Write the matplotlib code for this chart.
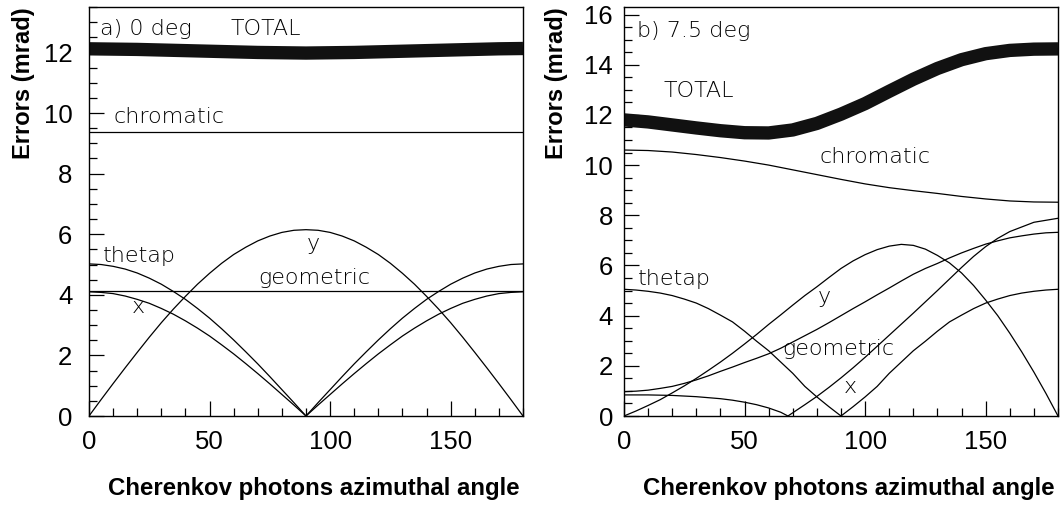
import numpy as np
import matplotlib
matplotlib.use('Agg')
import matplotlib.pyplot as plt
from matplotlib.ticker import MultipleLocator

# ---- panel a) 0 deg, values every 5 deg ----
angle5 = np.arange(0, 181, 5)
angle10 = np.arange(0, 181, 10)

thetap_a = [5.02, 5.00, 4.94, 4.85, 4.72, 4.55, 4.35, 4.11, 3.85, 3.55, 3.23, 2.88, 2.51,
            2.12, 1.72, 1.30, 0.87, 0.44, 0.00, 0.44, 0.87, 1.30, 1.72, 2.12, 2.51, 2.88,
            3.23, 3.55, 3.85, 4.11, 4.35, 4.55, 4.72, 4.85, 4.94, 5.00, 5.02]
x_a = [4.10, 4.08, 4.04, 3.96, 3.85, 3.72, 3.55, 3.36, 3.14, 2.90, 2.64, 2.35, 2.05,
       1.73, 1.40, 1.06, 0.71, 0.36, 0.00, 0.36, 0.71, 1.06, 1.40, 1.73, 2.05, 2.35,
       2.64, 2.90, 3.14, 3.36, 3.55, 3.72, 3.85, 3.96, 4.04, 4.08, 4.10]
y_a = [0.00, 0.54, 1.07, 1.59, 2.10, 2.60, 3.08, 3.53, 3.95, 4.35, 4.71, 5.04, 5.33,
       5.57, 5.78, 5.94, 6.06, 6.13, 6.15, 6.13, 6.06, 5.94, 5.78, 5.57, 5.33, 5.04,
       4.71, 4.35, 3.95, 3.53, 3.08, 2.60, 2.10, 1.59, 1.07, 0.54, 0.00]
geometric_a = [4.14] * 19
chromatic_a = [9.38] * 19
total_a = [12.12, 12.11, 12.10, 12.08, 12.06, 12.04, 12.02, 12.00, 11.99, 11.98,
           11.99, 12.00, 12.02, 12.04, 12.06, 12.08, 12.10, 12.12, 12.13]

# ---- panel b) 7.5 deg ----
thetap_b = [5.05, 5.02, 4.97, 4.90, 4.80, 4.66, 4.50, 4.28, 4.02, 3.75, 3.38, 2.98, 2.60,
            2.15, 1.70, 1.18, 0.76, 0.37, 0.00, 0.37, 0.76, 1.18, 1.70, 2.15, 2.60, 2.98,
            3.38, 3.75, 4.02, 4.28, 4.50, 4.66, 4.80, 4.90, 4.97, 5.02, 5.05]
y_b = [0.00, 0.20, 0.42, 0.65, 0.92, 1.20, 1.50, 1.82, 2.15, 2.50, 2.87, 3.25, 3.65,
       4.03, 4.42, 4.80, 5.15, 5.52, 5.88, 6.18, 6.43, 6.63, 6.77, 6.84, 6.80, 6.65,
       6.40, 6.10, 5.70, 5.20, 4.62, 4.00, 3.30, 2.55, 1.75, 0.90, 0.00]
geometric_b = [0.97, 0.99, 1.03, 1.10, 1.18, 1.30, 1.44, 1.60, 1.78, 1.95, 2.13, 2.30, 2.48,
               2.70, 2.95, 3.20, 3.45, 3.72, 4.00, 4.28, 4.55, 4.83, 5.10, 5.38, 5.65, 5.88,
               6.08, 6.30, 6.50, 6.68, 6.85, 6.98, 7.10, 7.18, 7.25, 7.30, 7.32]
x_b_angle = [0, 10, 20, 30, 40, 45, 50, 55, 60, 65, 68, 75, 80, 85, 90, 95, 100,
             110, 120, 130, 140, 145, 150, 155, 160, 170, 180]
x_b = [0.84, 0.84, 0.82, 0.77, 0.69, 0.63, 0.55, 0.45, 0.32, 0.15, 0.00, 0.45, 0.78,
       1.14, 1.52, 1.92, 2.34, 3.22, 4.10, 5.00, 5.92, 6.36, 6.75, 7.08, 7.35, 7.72, 7.88]
chromatic_b = [10.60, 10.58, 10.52, 10.42, 10.30, 10.16, 10.00, 9.81, 9.62, 9.43,
               9.25, 9.10, 8.98, 8.87, 8.75, 8.65, 8.57, 8.53, 8.52]
total_b = [11.80, 11.72, 11.60, 11.48, 11.37, 11.29, 11.28, 11.40, 11.66, 12.03,
           12.45, 12.94, 13.42, 13.85, 14.20, 14.44, 14.57, 14.62, 14.63]

ylims = [13.5, 16.3]
xlabel = "Cherenkov photons azimuthal angle"
ylabel = "Errors (mrad)"

plt.rcParams['font.family'] = ['Liberation Sans', 'DejaVu Sans']
note_font = dict(family=['DejaVu Sans'], fontweight=200, fontsize=16,
                 color='black')

fig = plt.figure(figsize=(10.63, 5.05), dpi=100)
W, H = 1063., 505.
axA = fig.add_axes([89 / W, 89 / H, 434 / W, 409 / H])
axB = fig.add_axes([624 / W, 89 / H, 434 / W, 409 / H])

lw = 0.9
# panel a
axA.plot(angle10, total_a, color='#111111', lw=9.6, solid_capstyle='butt')
axA.plot(angle10, chromatic_a, color='black', lw=lw)
axA.plot(angle10, geometric_a, color='black', lw=lw)
axA.plot(angle5, thetap_a, color='black', lw=lw)
axA.plot(angle5, x_a, color='black', lw=lw)
axA.plot(angle5, y_a, color='black', lw=lw)
axA.text(4.6, 12.57, "a) 0 deg", **note_font)
axA.text(58.5, 12.57, "TOTAL", **note_font)
axA.text(10, 9.67, "chromatic", **note_font)
axA.text(5.8, 5.09, "thetap", **note_font)
axA.text(70, 4.36, "geometric", **note_font)
axA.text(17.6, 3.4, "x", **note_font)
axA.text(90.4, 5.48, "y", **note_font)

# panel b
axB.plot(angle10, total_b, color='#111111', lw=9.6, solid_capstyle='butt')
axB.plot(angle10, chromatic_b, color='black', lw=lw)
axB.plot(angle5, geometric_b, color='black', lw=lw)
axB.plot(angle5, thetap_b, color='black', lw=lw)
axB.plot(x_b_angle, x_b, color='black', lw=lw)
axB.plot(angle5, y_b, color='black', lw=lw)
axB.text(5.3, 15.1, "b) 7.5 deg", **note_font)
axB.text(16.2, 12.7, "TOTAL", **note_font)
axB.text(81, 10.07, "chromatic", **note_font)
axB.text(5.9, 5.22, "thetap", **note_font)
axB.text(80.5, 4.5, "y", **note_font)
axB.text(65.8, 2.43, "geometric", **note_font)
axB.text(91.2, 0.9, "x", **note_font)

for ax, ytop, ylx, ypad in [(axA, ylims[0], 24, 12), (axB, ylims[1], 556, 8)]:
    ax.set_xlim(0, 180)
    ax.set_ylim(0, ytop)
    ax.xaxis.set_major_locator(MultipleLocator(50))
    ax.xaxis.set_minor_locator(MultipleLocator(10))
    ax.yaxis.set_major_locator(MultipleLocator(2))
    ax.yaxis.set_minor_locator(MultipleLocator(0.5))
    ax.tick_params(which='both', direction='in', top=False, right=False,
                   labelsize=18.5, width=0.9)
    ax.tick_params(which='major', length=11)
    ax.tick_params(which='minor', length=5.5)
    ax.tick_params(axis='x', pad=10)
    ax.tick_params(axis='y', pad=ypad)
    for s in ax.spines.values():
        s.set_linewidth(1.0)
    pos = ax.get_position()
    fig.text(pos.x1 - 3 / W, 10 / H, xlabel, ha='right', va='baseline',
             fontsize=17.3, fontweight='bold')
    fig.text(ylx / W, pos.y1, ylabel, ha='center', va='top', rotation=90,
             fontsize=17, fontweight='bold')

fig.savefig('out.png', dpi=100)
